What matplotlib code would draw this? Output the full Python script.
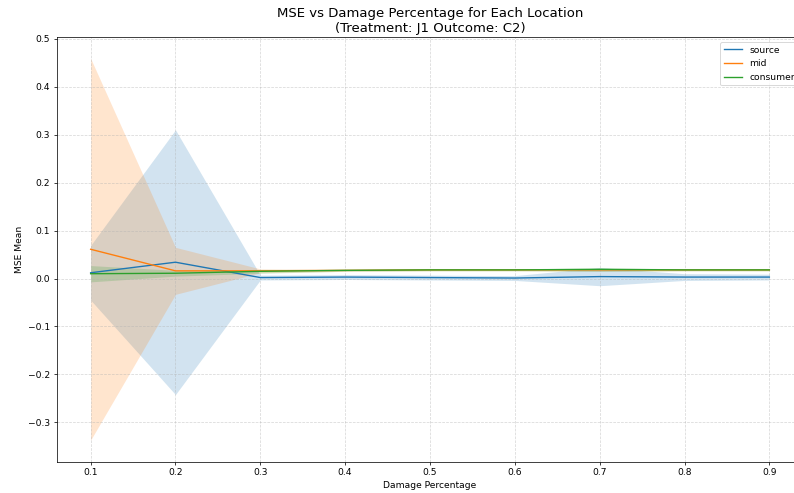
import matplotlib
matplotlib.use("Agg")
import matplotlib.pyplot as plt
import numpy as np

damage = [0.1, 0.2, 0.3, 0.4, 0.5, 0.6, 0.7, 0.8, 0.9]

source_mean = [0.012, 0.034, 0.002, 0.003, 0.002, 0.001, 0.004, 0.003, 0.003]
source_std = [0.057, 0.276, 0.005, 0.005, 0.005, 0.005, 0.019, 0.007, 0.006]

mid_mean = [0.061, 0.016, 0.016, 0.017, 0.018, 0.018, 0.018, 0.018, 0.018]
mid_std = [0.398, 0.049, 0.004, 0.002, 0.002, 0.002, 0.003, 0.002, 0.002]

consumer_mean = [0.010, 0.011, 0.015, 0.017, 0.018, 0.018, 0.019, 0.018, 0.018]
consumer_std = [0.017, 0.006, 0.004, 0.002, 0.002, 0.002, 0.004, 0.002, 0.002]

series = [
    ("source", source_mean, source_std, "#1f77b4"),
    ("mid", mid_mean, mid_std, "#ff7f0e"),
    ("consumer", consumer_mean, consumer_std, "#2ca02c"),
]

dpi = 66
fig = plt.figure(figsize=(794 / dpi, 493 / dpi), dpi=dpi)
ax = fig.add_axes([56.7 / 794, 31.3 / 493, (803.3 - 56.7) / 794, (461.7 - 37.3) / 493])

for name, m, s, c in series:
    m = np.array(m)
    s = np.array(s)
    ax.plot(damage, m, label=name, color=c, lw=1.5)
    ax.fill_between(damage, m - s, m + s, color=c, alpha=0.2, lw=0)

ax.set_xlim(0.06, 0.94)
ax.set_ylim(-0.382, 0.503)
ax.set_xticks([0.1, 0.2, 0.3, 0.4, 0.5, 0.6, 0.7, 0.8, 0.9])
ax.set_yticks([-0.3, -0.2, -0.1, 0.0, 0.1, 0.2, 0.3, 0.4, 0.5])
ax.grid(True, linestyle="--", alpha=0.5)
ax.set_xlabel("Damage Percentage")
ax.set_ylabel("MSE Mean")
ax.set_title("MSE vs Damage Percentage for Each Location\n(Treatment: J1 Outcome: C2)", fontsize=14.5)
ax.legend(loc="upper right")

fig.savefig("out.png", dpi=dpi)
